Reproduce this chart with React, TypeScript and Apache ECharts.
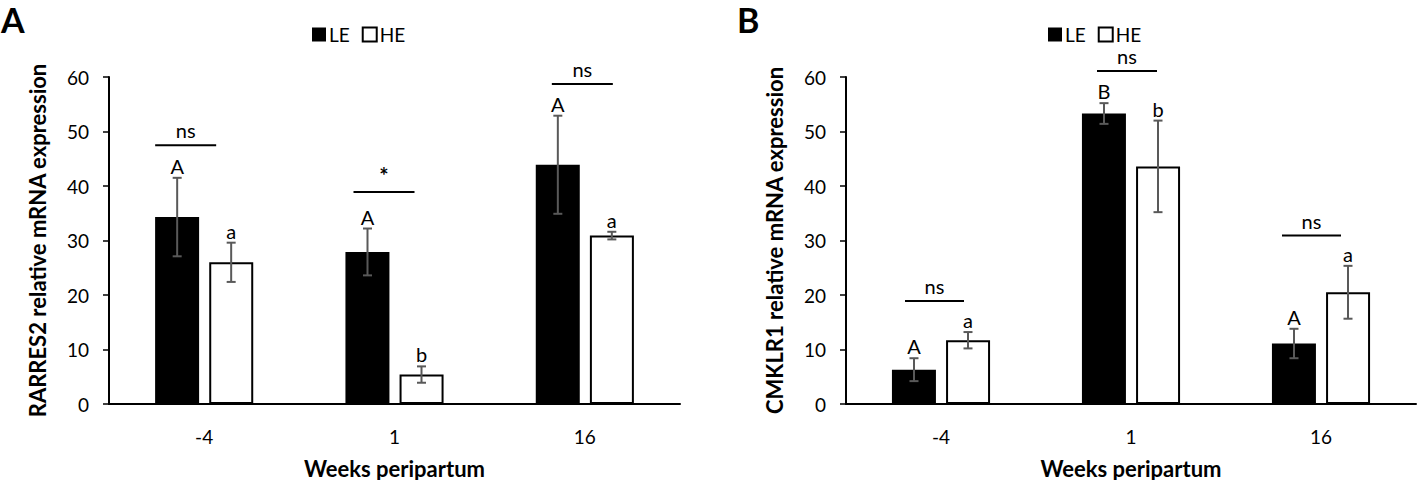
import React, { useEffect, useRef } from "react";
import * as echarts from "echarts";

const categories = ["-4", "1", "16"];

// Panel A: RARRES2
const rarresLE = [34.3, 27.9, 43.9];
const rarresLEerr = [7.2, 4.3, 9.0];
const rarresHE = [26.0, 5.4, 30.9];
const rarresHEerr = [3.6, 1.5, 0.7];
const rarresLElet = ["A", "A", "A"];
const rarresHElet = ["a", "b", "a"];
const rarresSig = ["ns", "*", "ns"];
const rarresSigLevel = [47.5, 38.9, 58.7];

// Panel B: CMKLR1
const cmklrLE = [6.3, 53.3, 11.1];
const cmklrLEerr = [2.1, 1.9, 2.7];
const cmklrHE = [11.7, 43.6, 20.5];
const cmklrHEerr = [1.5, 8.4, 4.85];
const cmklrLElet = ["A", "B", "A"];
const cmklrHElet = ["a", "b", "a"];
const cmklrSig = ["ns", "ns", "ns"];
const cmklrSigLevel = [18.9, 61.1, 30.9];

const yTicks = { min: 0, max: 60, interval: 10 };

// layout (pixel offsets of significance bars relative to category centre)
const sigSpanA = [[-49, 12], [-41, 20], [-33, 28]];
const sigSpanB = [[-36, 23], [-34, 26], [-39, 20]];

const FONT = "Lato";
const BAR_W = 44;
const OFF = 27;
const ERR_COLOR = "#595959";

function errSeries(gi: number, means: number[], errs: number[], letters: string[], off: number) {
  return {
    type: "custom",
    xAxisIndex: gi,
    yAxisIndex: gi,
    z: 5,
    silent: true,
    data: means.map((m, i) => [i, m, errs[i]]),
    encode: { x: 0, y: 1 },
    renderItem: (params: any, api: any) => {
      const i = api.value(0);
      const m = api.value(1);
      const e = api.value(2);
      const top = api.coord([i, m + e]);
      const bot = api.coord([i, m - e]);
      const x = top[0] + off;
      const lw = { stroke: ERR_COLOR, lineWidth: 2 };
      return {
        type: "group",
        children: [
          { type: "line", shape: { x1: x, y1: top[1], x2: x, y2: bot[1] }, style: lw },
          { type: "line", shape: { x1: x - 4.5, y1: top[1], x2: x + 4.5, y2: top[1] }, style: lw },
          { type: "line", shape: { x1: x - 4.5, y1: bot[1], x2: x + 4.5, y2: bot[1] }, style: lw },
          {
            type: "text",
            style: {
              text: letters[params.dataIndex],
              x: x,
              y: top[1] - 2,
              align: "center",
              verticalAlign: "bottom",
              fontFamily: FONT,
              fontSize: 20,
              fill: "#000",
            },
          },
        ],
      };
    },
  };
}

function sigSeries(gi: number, labels: string[], levels: number[], spans: number[][]) {
  return {
    type: "custom",
    xAxisIndex: gi,
    yAxisIndex: gi,
    z: 6,
    silent: true,
    clip: false,
    data: levels.map((l, i) => [i, l]),
    encode: { x: 0, y: 1 },
    renderItem: (params: any, api: any) => {
      const i = api.value(0);
      const l = api.value(1);
      const p = api.coord([i, l]);
      const sp = spans[params.dataIndex];
      const x1 = p[0] + sp[0];
      const x2 = p[0] + sp[1];
      const lab = labels[params.dataIndex];
      const star = lab === "*";
      return {
        type: "group",
        children: [
          { type: "line", shape: { x1, y1: p[1], x2, y2: p[1] }, style: { stroke: "#000", lineWidth: 2 } },
          {
            type: "text",
            style: {
              text: lab,
              x: (x1 + x2) / 2,
              y: p[1] - 5,
              align: "center",
              verticalAlign: "bottom",
              fontFamily: FONT,
              fontSize: star ? 22 : 20,
              fontWeight: star ? "bold" : "normal",
              fill: "#000",
            },
          },
        ],
      };
    },
  };
}

function xAxis(gi: number) {
  return {
    type: "category",
    gridIndex: gi,
    data: categories,
    axisTick: { show: false },
    axisLine: { lineStyle: { color: "#000", width: 2 } },
    axisLabel: { color: "#000", fontFamily: FONT, fontSize: 19, margin: 23 },
    name: "Weeks peripartum",
    nameLocation: "middle",
    nameGap: 53,
    nameTextStyle: { color: "#000", fontFamily: FONT, fontSize: 22, fontWeight: "bold" },
  };
}

function yAxis(gi: number, name: string) {
  return {
    type: "value",
    gridIndex: gi,
    min: yTicks.min,
    max: yTicks.max,
    interval: yTicks.interval,
    splitLine: { show: false },
    axisLine: { show: true, lineStyle: { color: "#000", width: 2 } },
    axisTick: { show: true, length: 6, lineStyle: { color: "#000", width: 1.5 } },
    axisLabel: { color: "#000", fontFamily: FONT, fontSize: 19, margin: 20 },
    name,
    nameLocation: "middle",
    nameGap: 61,
    nameTextStyle: { color: "#000", fontFamily: FONT, fontSize: 22, fontWeight: "bold" },
  };
}

function barPair(gi: number, le: number[], he: number[]) {
  return [
    {
      name: "LE",
      type: "bar",
      xAxisIndex: gi,
      yAxisIndex: gi,
      data: le,
      barWidth: BAR_W,
      barGap: "23%",
      itemStyle: { color: "#000" },
    },
    {
      name: "HE",
      type: "bar",
      xAxisIndex: gi,
      yAxisIndex: gi,
      data: he,
      barWidth: BAR_W,
      barGap: "23%",
      itemStyle: { color: "#fff", borderColor: "#000", borderWidth: 2 },
    },
  ];
}

function legend(left: number) {
  return {
    left,
    top: 20,
    data: ["LE", "HE"],
    icon: "rect",
    itemWidth: 14,
    itemHeight: 14,
    itemGap: 12,
    selectedMode: false,
    textStyle: { color: "#000", fontFamily: FONT, fontSize: 19, padding: [0, 0, 0, -2] },
  };
}

export default function App() {
  const ref = useRef<HTMLDivElement>(null);
  useEffect(() => {
    document.body.style.margin = "0";
    const chart = echarts.init(ref.current!, null, { renderer: "svg" });
    chart.setOption({
      animation: false,
      backgroundColor: "#fff",
      legend: [legend(307), legend(1043)],
      grid: [
        { left: 109, top: 77, width: 571, height: 327, outerBoundsMode: "none" },
        { left: 846, top: 77, width: 570, height: 327, outerBoundsMode: "none" },
      ],
      xAxis: [xAxis(0), xAxis(1)],
      yAxis: [yAxis(0, "RARRES2 relative mRNA expression"), yAxis(1, "CMKLR1 relative mRNA expression")],
      graphic: [
        { type: "text", left: 1, top: 2, style: { text: "A", fontFamily: FONT, fontSize: 34, fontWeight: "bold", fill: "#000" } },
        { type: "text", left: 737, top: 2, style: { text: "B", fontFamily: FONT, fontSize: 34, fontWeight: "bold", fill: "#000" } },
      ],
      series: [
        ...barPair(0, rarresLE, rarresHE),
        errSeries(0, rarresLE, rarresLEerr, rarresLElet, -OFF),
        errSeries(0, rarresHE, rarresHEerr, rarresHElet, OFF),
        sigSeries(0, rarresSig, rarresSigLevel, sigSpanA),
        ...barPair(1, cmklrLE, cmklrHE),
        errSeries(1, cmklrLE, cmklrLEerr, cmklrLElet, -OFF),
        errSeries(1, cmklrHE, cmklrHEerr, cmklrHElet, OFF),
        sigSeries(1, cmklrSig, cmklrSigLevel, sigSpanB),
      ],
    });
    return () => chart.dispose();
  }, []);
  return <div ref={ref} style={{ width: 1417, height: 480 }} />;
}
